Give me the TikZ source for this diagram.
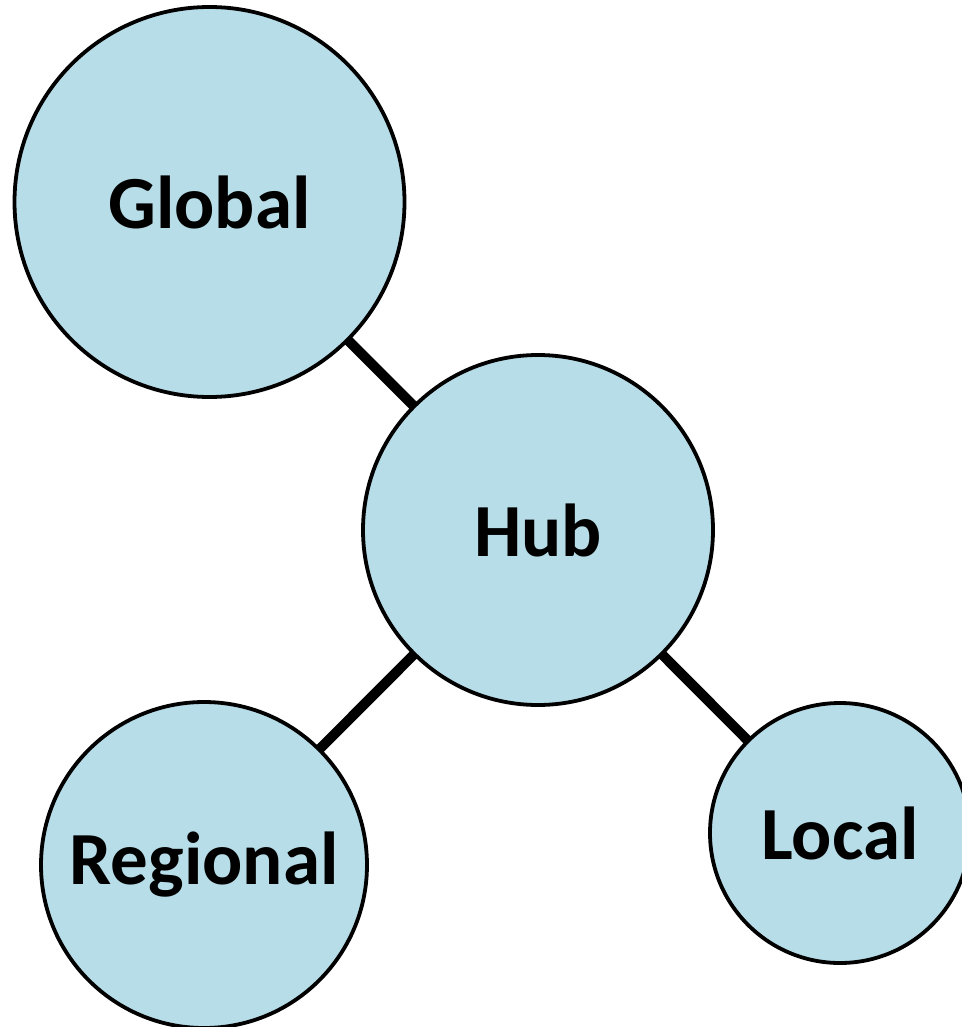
\documentclass[tikz,border=0pt]{standalone}
\usepackage{fontspec}
\setmainfont{Carlito}
\definecolor{nodefill}{RGB}{183,221,232}
\begin{document}
\begin{tikzpicture}[x=1pt,y=-1pt,
  bubble/.style={circle,draw=black,line width=3.8pt,fill=nodefill,inner sep=0pt,
    font=\fontsize{75}{80}\selectfont\bfseries},
  link/.style={line width=10pt,draw=black}]
\useasboundingbox (0,0) rectangle (961,1027);
\coordinate (cg) at (209.5,202);
\coordinate (ch) at (538,530);
\coordinate (cr) at (204,865);
\coordinate (cl) at (840,833);
\draw[link] (cg) -- (ch);
\draw[link] (ch) -- (cr);
\draw[link] (ch) -- (cl);
\node[bubble,minimum size=390pt] (global) at (cg) {Global};
\node[bubble,minimum size=350pt] (hub) at (ch) {Hub};
\node[bubble,minimum size=326pt] (regional) at (cr) {Regional};
\node[bubble,minimum size=260pt] (local) at (cl) {Local};
\end{tikzpicture}
\end{document}
